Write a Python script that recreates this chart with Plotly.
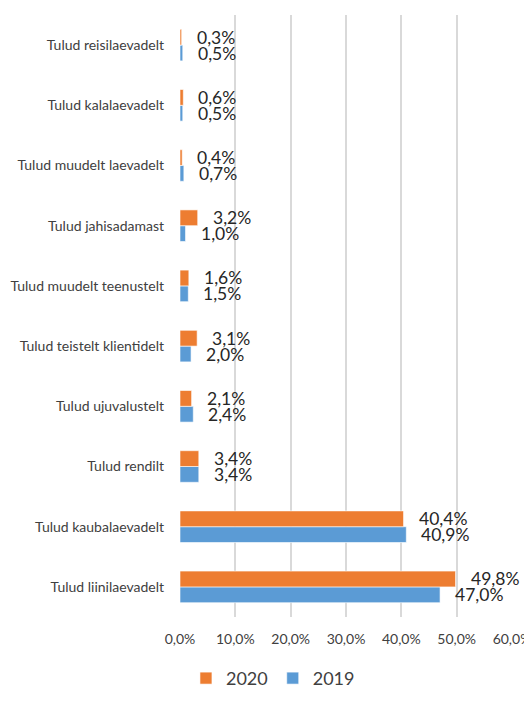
import plotly.graph_objects as go

categories = [
    "Tulud liinilaevadelt",
    "Tulud kaubalaevadelt",
    "Tulud rendilt",
    "Tulud ujuvalustelt",
    "Tulud teistelt klientidelt",
    "Tulud muudelt teenustelt",
    "Tulud jahisadamast",
    "Tulud muudelt laevadelt",
    "Tulud kalalaevadelt",
    "Tulud reisilaevadelt",
]
values_2019 = [0.470, 0.409, 0.034, 0.024, 0.020, 0.015, 0.010, 0.007, 0.005, 0.005]
values_2020 = [0.498, 0.404, 0.034, 0.021, 0.031, 0.016, 0.032, 0.004, 0.006, 0.003]
x_ticks = [0, 0.1, 0.2, 0.3, 0.4, 0.5, 0.6]

BLUE = "#5B9BD5"
ORANGE = "#ED7D31"
FONT = "Lato, 'Open Sans', sans-serif"

fig = go.Figure()
fig.add_trace(go.Bar(name="2019", y=categories, x=values_2019, orientation="h",
                     marker=dict(color=BLUE, line=dict(color="white", width=0.6))))
fig.add_trace(go.Bar(name="2020", y=categories, x=values_2020, orientation="h",
                     marker=dict(color=ORANGE, line=dict(color="white", width=0.6))))

annotations = []
for cat, v19, v20 in zip(categories, values_2019, values_2020):
    for v, shift in ((v20, 8), (v19, -8)):
        annotations.append(dict(
            x=v, y=cat, xref="x", yref="y", text=f"{v*100:.1f}%".replace(".", ","),
            showarrow=False, xanchor="left", yanchor="middle", xshift=13, yshift=shift,
            font=dict(size=17.5, color="#262626", family=FONT)))

# page body adds an 8px offset, so the figure is sized to fill the remaining window
fig.update_layout(
    width=524, height=696,
    margin=dict(l=172, r=20, t=7, b=71),
    plot_bgcolor="white", paper_bgcolor="white",
    barmode="group", bargap=0.475, bargroupgap=0,
    separators=", ",
    font=dict(family=FONT, color="#404040", size=14),
    xaxis=dict(range=[0, 0.6], tickvals=x_ticks, tickformat=".1%",
               showgrid=True, gridcolor="#D9D9D9", gridwidth=1.5,
               zeroline=False, showline=False, ticks="", automargin=False,
               tickfont=dict(size=14, color="#404040"), ticklabelstandoff=12),
    yaxis=dict(showgrid=False, zeroline=False, showline=False, ticks="",
               automargin=False,
               tickfont=dict(size=14, color="#404040"), ticklabelstandoff=15),
    legend=dict(orientation="h", x=0.28, xanchor="center", y=-0.102, yanchor="middle",
                traceorder="reversed", font=dict(size=18, color="#404040"),
                itemwidth=30),
    annotations=annotations,
)

fig.write_html("out.html")
